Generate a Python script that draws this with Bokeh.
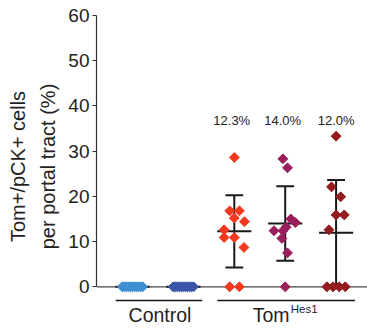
import numpy as np
from bokeh.plotting import figure
from bokeh.models import Range1d, Span, FixedTicker
from bokeh.core.properties import value
from bokeh.embed import file_html
from bokeh.resources import INLINE

# ---------------- data ----------------
group_labels = ["Control", "Tom"]
group_superscript = "Hes1"
series_names = ["Control A", "Control B", "Tom A", "Tom B", "Tom C"]

control_a = [0, 0, 0, 0, 0, 0, 0, 0, 0, 0, 0]
control_b = [0, 0, 0, 0, 0, 0, 0, 0, 0, 0, 0]
tom_a = [28.6, 16.8, 16.8, 15.2, 14.4, 12.6, 10.9, 10.9, 8.7, 0, 0]
tom_b = [28.3, 26.3, 15.0, 14.2, 13.2, 12.4, 12.4, 10.7, 7.5, 0]
tom_c = [33.3, 22.1, 19.9, 15.9, 15.9, 12.6, 0, 0, 0, 0]

pct_labels = ["12.3%", "14.0%", "12.0%"]
y_ticks = [0, 10, 20, 30, 40, 50, 60]
y_axis_title = "Tom+/pCK+ cells\nper portal tract (%)"

# ---------------- layout / style ----------------
# horizontal scatter offsets (category units)
off_control_a = list(np.linspace(-0.2, 0.2, len(control_a)))
off_control_b = list(np.linspace(-0.2, 0.2, len(control_b)))
off_tom_a = [0, -0.09, 0.10, 0, 0.2, -0.2, -0.2, 0, 0.19, -0.09, 0.10]
off_tom_b = [-0.045, 0.045, 0.11, 0.2, 0.02, -0.22, -0.045, -0.065, 0.045, 0]
off_tom_c = [0, -0.09, 0.09, 0, 0.16, -0.14, -0.18, -0.06, 0.06, 0.18]
pct_offsets = [-0.05, -0.05, 0.0]

colors = ["#3f8ed3", "#3a55a8", "#f0391f", "#9a1d5c", "#931b1f"]
FONT = "Liberation Sans"
TXT = "#222222"

series = [control_a, control_b, tom_a, tom_b, tom_c]
offsets = [off_control_a, off_control_b, off_tom_a, off_tom_b, off_tom_c]
groups = [[1, 2], [3, 4, 5]]

p = figure(width=367, height=332,
           x_range=Range1d(0.2927, 5.617), y_range=Range1d(-10.106, 63.31),
           x_axis_location=None, output_backend="svg", toolbar_location=None,
           min_border_left=96, min_border_right=0, min_border_top=0,
           min_border_bottom=0)
p.grid.visible = False
p.outline_line_color = None
p.background_fill_color = "white"

# y axis
ax = p.yaxis[0]
ax.ticker = FixedTicker(ticks=y_ticks)
ax.bounds = (0, 60)
ax.axis_line_color = "#333333"
ax.axis_line_width = 1.2
ax.major_tick_line_color = "#333333"
ax.major_tick_line_width = 1.2
ax.major_tick_out = 4
ax.major_tick_in = 0
ax.minor_tick_line_color = None
ax.major_label_text_font = FONT
ax.major_label_text_font_size = "19px"
ax.major_label_text_color = TXT
ax.major_label_standoff = 3
ax.axis_label = y_axis_title
ax.axis_label_text_font = FONT
ax.axis_label_text_font_size = "20px"
ax.axis_label_text_font_style = "normal"
ax.axis_label_text_color = TXT
ax.axis_label_text_line_height = 1.4
ax.axis_label_standoff = 6

# zero baseline
p.add_layout(Span(location=0, dimension="width", line_color="#444444",
                  line_width=1.2, level="underlay"))

# error bars: mean +/- SD
for i, vals in enumerate(series):
    cx = i + 1
    v = np.array(vals, dtype=float)
    m = v.mean()
    s = v.std(ddof=1)
    lo, hi = max(0.0, m - s), m + s
    p.segment(x0=[cx, cx - 0.175, cx - 0.175, cx - 0.335],
              y0=[lo, hi, lo, m],
              x1=[cx, cx + 0.175, cx + 0.175, cx + 0.335],
              y1=[hi, hi, lo, m],
              line_color="#1a1a1a", line_width=2)

# points
for i, (vals, offs) in enumerate(zip(series, offsets)):
    xs = [i + 1 + o for o in offs]
    p.scatter(x=xs, y=vals, marker="square", angle=np.pi / 4, size=7,
              fill_color=colors[i], line_color=colors[i], line_width=1)

# percent labels above Tom groups
p.text(x=[g + o for g, o in zip(groups[1], pct_offsets)],
       y=[36.7] * len(pct_labels), text=pct_labels,
       text_align="center", text_baseline="alphabetic",
       text_font=value(FONT), text_font_size="13px", text_color=TXT)

# group underlines and labels
x0s = [g[0] - 0.33 for g in groups]
x1s = [g[-1] + 0.37 for g in groups]
p.segment(x0=x0s, y0=[-3.03] * 2, x1=x1s, y1=[-3.03] * 2,
          line_color="#111111", line_width=1.5)

centers = [float(np.mean(g)) for g in groups]
p.text(x=[centers[0] + 0.04], y=[-6.2], text=[group_labels[0]],
       text_align="center", text_baseline="alphabetic",
       text_font=value(FONT), text_font_size="19.5px", text_color=TXT)
p.text(x=[centers[1] + 0.085], y=[-6.2], text=[group_labels[1]],
       text_align="right", text_baseline="alphabetic",
       text_font=value(FONT), text_font_size="19.5px", text_color=TXT)
p.text(x=[centers[1] + 0.11], y=[-4.9], text=[group_superscript],
       text_align="left", text_baseline="alphabetic",
       text_font=value(FONT), text_font_size="11.5px", text_color=TXT)

open("out.html", "w").write(file_html(p, INLINE))
